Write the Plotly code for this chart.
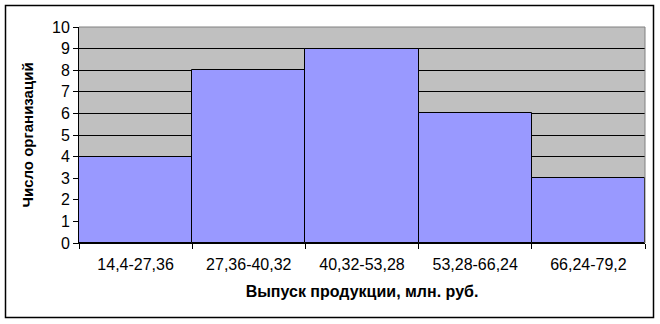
import plotly.graph_objects as go

categories = ["14,4-27,36", "27,36-40,32", "40,32-53,28", "53,28-66,24", "66,24-79,2"]
counts = [4, 8, 9, 6, 3]
x_title = "Выпуск продукции, млн. руб."
y_title = "Число организаций"

W, H = 660, 324
L, R, T, B = 79, 15, 27, 81
pw, ph = W - L - R, H - T - B

fig = go.Figure(go.Bar(
    x=categories, y=counts,
    marker=dict(color="#9999FF", line=dict(color="black", width=1)),
))

def px_x(x):
    return (x - L) / pw

def px_y(y):
    return (H - B - y) / ph

fig.update_layout(
    width=W, height=H,
    margin=dict(l=L, r=R, t=T, b=B),
    paper_bgcolor="white",
    plot_bgcolor="#C0C0C0",
    bargap=0,
    showlegend=False,
    font=dict(family="Liberation Sans, Arial", size=16, color="black"),
    xaxis=dict(
        showgrid=False, showline=True, linecolor="black", linewidth=1,
        ticks="outside", tickson="boundaries", ticklen=5, tickcolor="black",
        ticklabelstandoff=7,
        title=dict(text="<b>" + x_title + "</b>", font=dict(size=16), standoff=13),
        tickfont=dict(size=16),
    ),
    yaxis=dict(
        range=[0, 10], dtick=1, showgrid=True, gridcolor="black", gridwidth=1,
        showline=True, linecolor="black", linewidth=1,
        ticks="outside", ticklen=5, tickcolor="black",
        zeroline=False,
        title=dict(text="<b>" + y_title + "</b>", font=dict(size=15), standoff=14),
        tickfont=dict(size=16),
    ),
    shapes=[
        dict(type="line", xref="paper", yref="paper", x0=0, x1=1, y0=1, y1=1,
             line=dict(color="#808080", width=1)),
        dict(type="line", xref="paper", yref="paper", x0=1, x1=1, y0=0, y1=1,
             line=dict(color="#808080", width=1)),
        dict(type="rect", xref="paper", yref="paper",
             x0=px_x(5.5), x1=px_x(653.5), y0=px_y(317.5), y1=px_y(5.5),
             line=dict(color="black", width=1.5), layer="above"),
    ],
)

fig.write_html("out.html")
